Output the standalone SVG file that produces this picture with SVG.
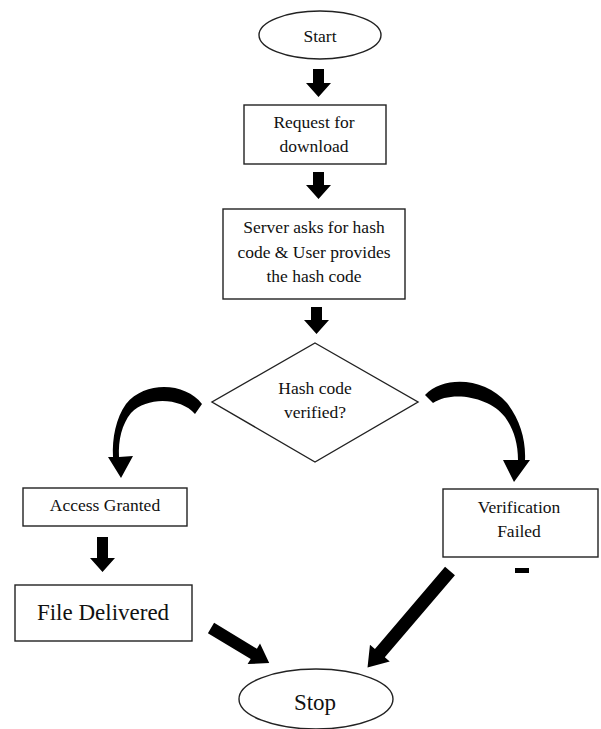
<svg xmlns="http://www.w3.org/2000/svg" width="601" height="729" viewBox="0 0 601 729">
<defs>
<style>
.shape{fill:#fff;stroke:#222;stroke-width:1.4}
.t{font-family:"Liberation Serif","Times New Roman",serif;font-size:17.5px;fill:#111;text-anchor:middle}
.big{font-size:23px}
.arr{fill:#000;stroke:none}
</style>
</defs>
<rect width="601" height="729" fill="#fff"/>
<g id="start">
<ellipse class="shape" cx="320" cy="35" rx="61" ry="24"/>
<text class="t" x="320" y="42">Start</text>
</g>
<g id="request">
<rect class="shape" x="244" y="105" width="142" height="59"/>
<text class="t" x="314" y="128">Request for</text>
<text class="t" x="314" y="152">download</text>
</g>
<g id="server">
<rect class="shape" x="223" y="209" width="182" height="90"/>
<text class="t" x="314" y="233">Server asks for hash</text>
<text class="t" x="314" y="258">code &amp; User provides</text>
<text class="t" x="314" y="282">the hash code</text>
</g>
<g id="decision">
<polygon class="shape" points="315,343 418,402 315,462 212,402"/>
<text class="t" x="315" y="394">Hash code</text>
<text class="t" x="315" y="418">verified?</text>
</g>
<g id="granted">
<rect class="shape" x="23" y="488" width="164" height="38"/>
<text class="t" x="105" y="511">Access Granted</text>
</g>
<g id="delivered">
<rect class="shape" x="15" y="585" width="177" height="56"/>
<text class="t big" x="103" y="620">File Delivered</text>
</g>
<g id="failed">
<rect class="shape" x="443" y="489" width="155" height="68"/>
<text class="t" x="519" y="513">Verification</text>
<text class="t" x="519" y="537">Failed</text>
<rect class="arr" x="515" y="568" width="14" height="5"/>
</g>
<g id="stop">
<ellipse class="shape" cx="316" cy="699" rx="77" ry="30"/>
<text class="t big" x="315" y="710">Stop</text>
</g>
<g id="connectors">
<polygon class="arr" points="313,69 324,69 324,83 331,83 318.5,97 306,83 313,83"/>
<polygon class="arr" points="313,172 324,172 324,185 331,185 318.5,199 306,185 313,185"/>
<polygon class="arr" points="311,307 322,307 322,320 329,320 316.5,334 304,320 311,320"/>
<polygon class="arr" points="97,537 108,537 108,558 115,558 102.5,572 90,558 97,558"/>
<path class="arr" d="M202,404 C186,383 146,380 126,404 C116,418 112,438 113,457 L108,457 L121,478 L133,456 L119,457 C118,440 122,424 131,413 C148,396 181,398 195,414 Z"/>
<path class="arr" d="M425,395 C445,375 485,378 507,403 C520,420 526,440 525,460 L530,460 L514,482 L503,460 L518,460 C518,442 513,428 505,417 C490,397 452,390 433,403 Z"/>
<polygon class="arr" transform="translate(211,628) rotate(31.1)" points="0,-6 50,-6 50,-12 68,0 50,12 50,6 0,6"/>
<polygon class="arr" transform="translate(450,571) rotate(130.5)" points="0,-6.5 108,-6.5 108,-13 127,0 108,13 108,6.5 0,6.5"/>
</g>
</svg>
